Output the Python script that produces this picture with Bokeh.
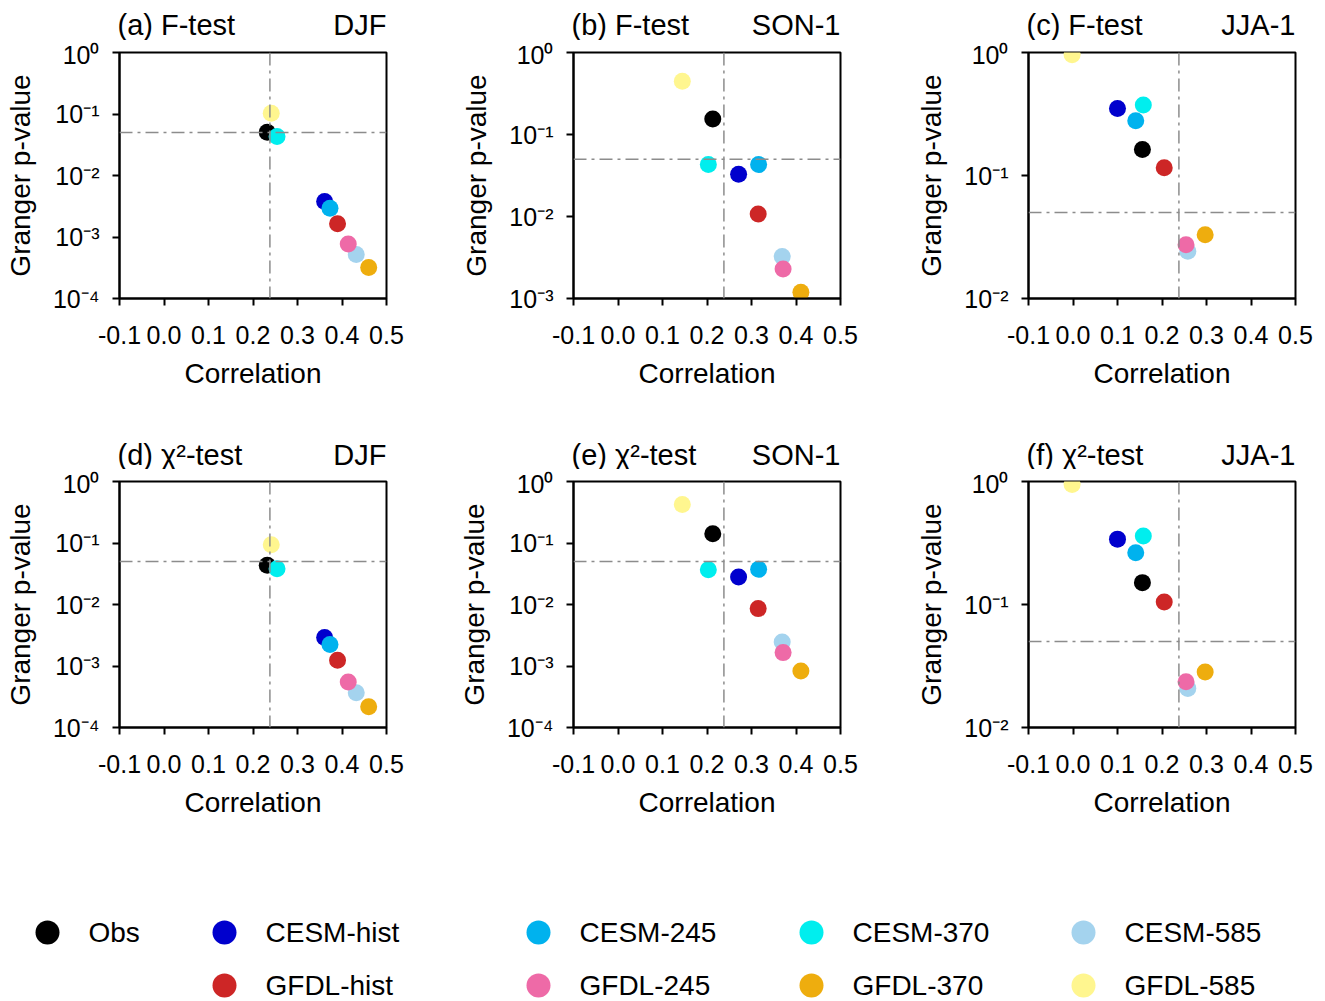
from bokeh.plotting import figure
from bokeh.layouts import row, column
from bokeh.models import (Range1d, FixedTicker, CustomJSTickFormatter, Span,
                          ColumnDataSource)
from bokeh.core.properties import value
from bokeh.embed import file_html
from bokeh.resources import INLINE

# ---------------- data ----------------
series = ["Obs", "CESM-hist", "CESM-245", "CESM-370", "CESM-585",
          "GFDL-hist", "GFDL-245", "GFDL-370", "GFDL-585"]
colors = ["#000000", "#0000CD", "#00B2EE", "#00EEEE", "#A4D3EE",
          "#CD2626", "#EE6AA7", "#EEAD0E", "#FFF68F"]

corr_djf = [0.232, 0.361, 0.373, 0.254, 0.432, 0.390, 0.414, 0.460, 0.241]
corr_son = [0.213, 0.271, 0.316, 0.203, 0.369, 0.315, 0.371, 0.411, 0.1445]
corr_jja = [0.156, 0.100, 0.141, 0.158, 0.258, 0.205, 0.254, 0.297, -0.002]

p_f_djf = [0.0506, 0.00378, 0.00294, 0.043, 0.00052, 0.00164, 0.00077, 0.00032, 0.103]
p_f_son = [0.155, 0.0328, 0.043, 0.043, 0.00325, 0.0107, 0.00229, 0.00119, 0.445]
p_f_jja = [0.1625, 0.351, 0.279, 0.374, 0.0242, 0.1155, 0.0274, 0.033, 0.957]

p_chi_djf = [0.0433, 0.0029, 0.00223, 0.0382, 0.000366, 0.00124, 0.00055, 0.000217, 0.0938]
p_chi_son = [0.1416, 0.028, 0.0373, 0.0368, 0.00246, 0.00857, 0.00165, 0.00083, 0.423]
p_chi_jja = [0.1506, 0.340, 0.264, 0.36, 0.0208, 0.1047, 0.0235, 0.0283, 0.946]

corr_threshold = 0.238
p_threshold = 0.05

x_ticks = [-0.1, 0.0, 0.1, 0.2, 0.3, 0.4, 0.5]

titles_f = ["(a) F-test", "(b) F-test", "(c) F-test"]
titles_chi = ["(d) \u03c7\u00b2-test", "(e) \u03c7\u00b2-test", "(f) \u03c7\u00b2-test"]
seasons = ["DJF", "SON-1", "JJA-1"]
ymin_f = [1e-4, 1e-3, 1e-2]
ymin_chi = [1e-4, 1e-4, 1e-2]

# legend layout (column index, row index)
legend_col = [0, 1, 2, 3, 4, 1, 2, 3, 4]
legend_row = [0, 0, 0, 0, 0, 1, 1, 1, 1]

FONT = "Liberation Sans"

# ---------------- layout (pixels) ----------------
FRAME_W, FRAME_H = 267, 246
BORDER_L = [119, 119, 120]
FIG_W = [454, 454, 412]
TOTAL_W = sum(FIG_W)
BORDER_T, BORDER_B = 12, 129
FIG_H = BORDER_T + FRAME_H + BORDER_B

sup_js = """
const e = Math.round(Math.log10(tick));
const sup = {"-":"\u207b","0":"\u2070","1":"\u00b9","2":"\u00b2","3":"\u00b3","4":"\u2074"};
return "10" + String(e).split("").map(c => sup[c]).join("");
"""


def make_panel(xs, ps, ymin, k):
    width = FIG_W[k]
    p = figure(width=width, height=FIG_H, x_range=Range1d(-0.1, 0.5),
               y_range=Range1d(ymin, 1.0), y_axis_type="log",
               output_backend="svg", toolbar_location=None,
               min_border_left=BORDER_L[k],
               min_border_right=width - BORDER_L[k] - FRAME_W,
               min_border_top=BORDER_T, min_border_bottom=BORDER_B)
    p.grid.visible = False
    p.outline_line_color = "black"
    p.outline_line_width = 2
    p.background_fill_color = "white"
    p.border_fill_color = "white"

    p.xaxis.ticker = FixedTicker(ticks=x_ticks)
    p.xaxis.major_label_overrides = {t: f"{t:.1f}" for t in x_ticks}
    decades = [ymin * 10 ** j for j in range(0, 6) if ymin * 10 ** j <= 1.0001]
    p.yaxis.ticker = FixedTicker(ticks=decades)
    p.yaxis.formatter = CustomJSTickFormatter(code=sup_js)

    for ax in (p.xaxis, p.yaxis):
        ax.axis_line_width = 2
        ax.axis_line_color = "black"
        ax.major_tick_line_width = 2
        ax.major_tick_in = 0
        ax.major_tick_out = 7
        ax.minor_tick_line_color = None
        ax.major_label_text_font = FONT
        ax.major_label_text_font_size = "25px"
        ax.major_label_text_color = "black"
        ax.axis_label_text_font = FONT
        ax.axis_label_text_font_size = "28px"
        ax.axis_label_text_font_style = "normal"
        ax.axis_label_text_color = "black"
    p.xaxis.axis_label = "Correlation"
    p.yaxis.axis_label = "Granger p-value"
    p.xaxis.major_label_standoff = 20
    p.xaxis.axis_label_standoff = 11
    p.yaxis.major_label_standoff = 13
    p.yaxis.axis_label_standoff = 14

    dash = "13 5 3 5"
    p.add_layout(Span(location=corr_threshold, dimension="height",
                      line_color="#8c8c8c", line_width=1.5, line_dash=dash))
    p.add_layout(Span(location=p_threshold, dimension="width",
                      line_color="#8c8c8c", line_width=1.5, line_dash=dash))

    src = ColumnDataSource(dict(x=xs, y=ps, c=colors, name=series))
    p.scatter("x", "y", source=src, size=17, fill_color="c", line_color=None)
    return p


def make_header(height, middle_from_bottom, left_texts, right_texts):
    h = figure(width=TOTAL_W, height=height, x_range=Range1d(0, TOTAL_W),
               y_range=Range1d(0, height), output_backend="svg",
               toolbar_location=None, min_border=0, min_border_left=0,
               min_border_right=0, min_border_top=0, min_border_bottom=0)
    h.axis.visible = False
    h.grid.visible = False
    h.outline_line_color = None
    lefts, rights, acc = [], [], 0
    for k in range(3):
        fl = acc + BORDER_L[k]
        lefts.append(fl - 2)
        rights.append(fl + FRAME_W)
        acc += FIG_W[k]
    ys = [middle_from_bottom] * 3
    h.text(lefts, ys, text=left_texts, text_font=value(FONT), text_font_size="29px",
           text_baseline="middle", text_align="left", text_color="black")
    h.text(rights, ys, text=right_texts, text_font=value(FONT), text_font_size="29px",
           text_baseline="middle", text_align="right", text_color="black")
    return h


row1 = [make_panel(corr_djf, p_f_djf, ymin_f[0], 0),
        make_panel(corr_son, p_f_son, ymin_f[1], 1),
        make_panel(corr_jja, p_f_jja, ymin_f[2], 2)]
row2 = [make_panel(corr_djf, p_chi_djf, ymin_chi[0], 0),
        make_panel(corr_son, p_chi_son, ymin_chi[1], 1),
        make_panel(corr_jja, p_chi_jja, ymin_chi[2], 2)]

head1 = make_header(40, 16, titles_f, seasons)
head2 = make_header(42, 15, titles_chi, seasons)

# legend figure
LH = 1000 - 40 - 42 - 2 * FIG_H
lg = figure(width=TOTAL_W, height=LH, x_range=Range1d(0, TOTAL_W), y_range=Range1d(0, LH),
            output_backend="svg", toolbar_location=None,
            min_border=0, min_border_left=0, min_border_right=0,
            min_border_top=0, min_border_bottom=0)
lg.axis.visible = False
lg.grid.visible = False
lg.outline_line_color = None
col_x = [47, 224, 538, 811, 1083]
row_y = [LH - 76, LH - 129]
mx = [col_x[c] for c in legend_col]
my = [row_y[r] for r in legend_row]
lsrc = ColumnDataSource(dict(x=mx, y=my, tx=[v + 41 for v in mx], c=colors, name=series))
lg.scatter("x", "y", source=lsrc, size=24, fill_color="c", line_color=None)
lg.text("tx", "y", text="name", source=lsrc, text_font=value(FONT),
        text_font_size="28px", text_baseline="middle", text_align="left",
        text_color="black")

layout = column(head1, row(*row1, spacing=0), head2, row(*row2, spacing=0), lg, spacing=0)

open("out.html", "w").write(file_html(layout, INLINE))
